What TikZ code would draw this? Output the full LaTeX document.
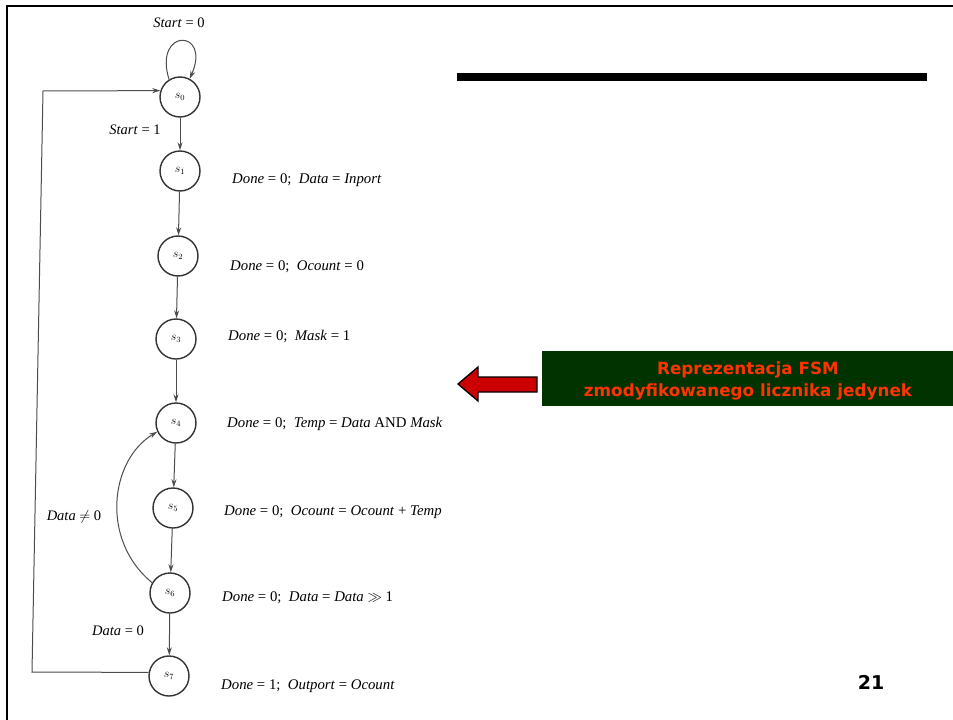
\documentclass[tikz,border=0pt]{standalone}
\usepackage{amsmath}
\usepackage{amssymb}
\usepackage{fontspec}
\setmainfont{Liberation Serif}
\newfontfamily\boxfont{DejaVu Sans}
\usetikzlibrary{arrows.meta, positioning}
\definecolor{boxgreen}{RGB}{0,51,0}
\definecolor{boxtext}{RGB}{255,51,0}
\definecolor{arrowred}{RGB}{204,0,0}

\begin{document}
\begin{tikzpicture}[
    x=1pt, y=-1pt,
    >={Stealth[length=8pt,width=5pt]},
    state/.style = {circle, draw=black!80, line width=1.4pt, minimum size=40pt, inner sep=0pt, font=\fontsize{12}{12}\selectfont},
    action/.style = {anchor=west, inner sep=0pt, font=\fontsize{14.8}{15}\selectfont},
    cond/.style = {inner sep=0pt, font=\fontsize{14.5}{15}\selectfont},
    trans/.style = {draw=black!70, line width=1pt, ->}
]
    \useasboundingbox (0,0) rectangle (953,720);
    \draw [line width=2.5pt] (7,720) -- (7,6) -- (953,6);
    \fill (457,73) rectangle (927,81);

    \node [state] (s0) at (180,97) {$s_0$};
    \node [state] (s1) at (180,171) {$s_1$};
    \node [state] (s2) at (178,256) {$s_2$};
    \node [state] (s3) at (176,339) {$s_3$};
    \node [state] (s4) at (176,423) {$s_4$};
    \node [state] (s5) at (173,508) {$s_5$};
    \node [state] (s6) at (170,593) {$s_6$};
    \node [state] (s7) at (169,676) {$s_7$};

    \node [action] (a1) at (232,180) {\textit{Done} = 0;\ \ \textit{Data} = \textit{Inport}};
    \node [action] (a2) at (230,267) {\textit{Done} = 0;\ \ \textit{Ocount} = 0};
    \node [action] (a3) at (228,336) {\textit{Done} = 0;\ \ \textit{Mask} = 1};
    \node [action] (a4) at (227,424) {\textit{Done} = 0;\ \ \textit{Temp} = \textit{Data} AND \textit{Mask}};
    \node [action] (a5) at (224,512) {\textit{Done} = 0;\ \ \textit{Ocount} = \textit{Ocount} + \textit{Temp}};
    \node [action] (a6) at (222,598) {\textit{Done} = 0;\ \ \textit{Data} = \textit{Data} $\gg$ 1};
    \node [action] (a7) at (221,686) {\textit{Done} = 1;\ \ \textit{Outport} = \textit{Ocount}};

    \node [cond] (c0) at (179,23) {\textit{Start} = 0};
    \node [cond] (c1) at (135,130) {\textit{Start} = 1};
    \node [cond] (c4) at (74,517) {\textit{Data} $\neq$ 0};
    \node [cond] (c6) at (118,631) {\textit{Data} = 0};

    \coordinate (back1) at (32,672);
    \coordinate (back2) at (43,91);

    \draw [trans] (s0.122) .. controls +(-16,-52) and +(22,-50) .. (s0.62);
    \draw [trans] (s0) -- (s1);
    \draw [trans] (s1) -- (s2);
    \draw [trans] (s2) -- (s3);
    \draw [trans] (s3) -- (s4);
    \draw [trans] (s4) -- (s5);
    \draw [trans] (s5) -- (s6);
    \draw [trans] (s6) -- (s7);
    \draw [trans] (s6.150) .. controls (100,540) and (110,460) .. (s4.205);
    \draw [trans] (s7.170) -- (back1) -- (back2) -- (s0.162);

    \draw [fill=arrowred, line width=1.3pt] (458,384) -- (478,367) -- (478,377) -- (537,377)
        -- (537,392) -- (478,392) -- (478,401) -- cycle;
    \fill [boxgreen] (542,351) rectangle (953,406);
    \node [inner sep=0pt, text=boxtext, font=\boxfont\bfseries\fontsize{16.8}{22}\selectfont, align=center]
        (title) at (748,381) {Reprezentacja FSM\\zmodyfikowanego licznika jedynek};
    \node [font=\boxfont\bfseries\fontsize{19}{19}\selectfont] (page) at (871,682) {21};
\end{tikzpicture}
\end{document}
